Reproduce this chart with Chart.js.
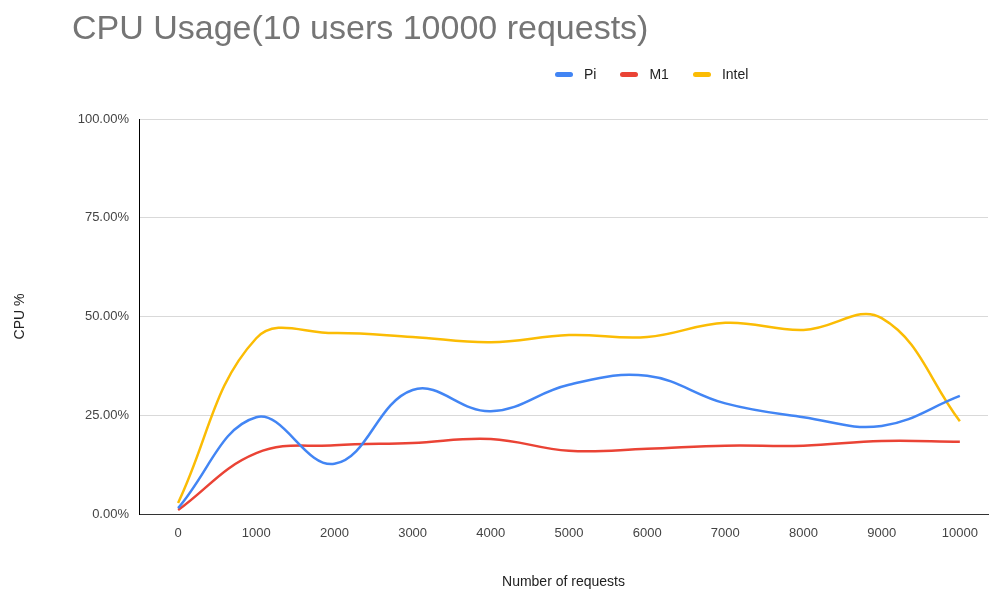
<!DOCTYPE html>
<html>
<head>
<meta charset="utf-8">
<script src="https://cdn.jsdelivr.net/npm/chart.js@4/dist/chart.umd.min.js"></script>
<style>
    html, body { margin: 0; padding: 0; background: #fff; }
    #wrap { position: relative; width: 990px; height: 595px; font-family: 'Liberation Sans', Arial, sans-serif; }
    #title { position: absolute; left: 72px; top: 8px; font-size: 34px; color: #757575; white-space: nowrap; }
    #legend { position: absolute; left: 555px; top: 66px; display: flex; font-size: 14px; color: #222; }
    #legend span { display: flex; align-items: center; margin-right: 24px; }
    #legend i { display: inline-block; width: 18px; height: 5px; border-radius: 3px; margin-right: 11px; }
    canvas { position: absolute; left: 0; top: 0; }
</style>
</head>
<body>
<div id="wrap">
    <canvas id="chart-cpu" width="990" height="595"></canvas>
    <div id="title">CPU Usage(10 users 10000 requests)</div>
    <div id="legend"></div>
</div>
<script>
// ===== DADOS =====
const requests = [0, 1000, 2000, 3000, 4000, 5000, 6000, 7000, 8000, 9000, 10000];
const piCpu    = [0.015, 0.245, 0.127, 0.314, 0.26, 0.327, 0.35, 0.28, 0.245, 0.223, 0.299];
const m1Cpu    = [0.01, 0.154, 0.174, 0.18, 0.19, 0.16, 0.165, 0.173, 0.173, 0.185, 0.183];
const intelCpu = [0.028, 0.445, 0.458, 0.448, 0.435, 0.453, 0.448, 0.484, 0.466, 0.496, 0.235];
const yTicks   = [0, 0.25, 0.5, 0.75, 1];

const series = [
    { label: 'Pi',    data: piCpu,    color: '#4285f4' },
    { label: 'M1',    data: m1Cpu,    color: '#ea4335' },
    { label: 'Intel', data: intelCpu, color: '#fbbc04' },
];

// legenda em HTML
const legend = document.getElementById('legend');
series.forEach(s => {
    const item = document.createElement('span');
    item.innerHTML = `<i style="background:${s.color}"></i>${s.label}`;
    legend.appendChild(item);
});

const font = { family: "'Liberation Sans', Arial, sans-serif", size: 13 };

new Chart(document.getElementById('chart-cpu'), {
    type: 'line',
    data: {
        datasets: series.map(s => ({
            label: s.label,
            data: s.data.map((v, i) => ({ x: requests[i], y: v })),
            borderColor: s.color,
            backgroundColor: s.color,
            borderWidth: 2.5,
            pointRadius: 0,
            tension: 0.4,
            fill: false,
        }))
    },
    options: {
        responsive: false,
        animation: false,
        layout: { padding: { top: 119, right: 2, bottom: 0, left: 0 } },
        plugins: {
            legend: { display: false },
            tooltip: { enabled: false },
        },
        scales: {
            x: {
                type: 'linear',
                min: -500,
                max: 10360,
                afterBuildTicks: axis => { axis.ticks = requests.map(v => ({ value: v })); },
                afterFit: axis => { axis.height = 81; },
                ticks: { color: '#444', font, padding: 12, maxRotation: 0, autoSkip: false, callback: v => String(v) },
                grid: { color: 'transparent', drawTicks: false },
                border: { color: '#333', width: 1 },
                title: { display: true, text: 'Number of requests', color: '#222', font: { ...font, size: 14 }, padding: { top: 0, bottom: 4 } },
            },
            y: {
                min: 0,
                max: 1,
                afterBuildTicks: axis => { axis.ticks = yTicks.map(v => ({ value: v })); },
                afterFit: axis => { axis.width = 139; },
                ticks: { color: '#444', font, padding: 10, callback: v => (v * 100).toFixed(2) + '%' },
                grid: { color: '#d9d9d9', drawTicks: false },
                border: { color: '#000', width: 1 },
                title: { display: true, text: 'CPU %', color: '#222', font: { ...font, size: 14 }, padding: { top: 12, bottom: 0 } },
            }
        }
    }
});
</script>
</body>
</html>
